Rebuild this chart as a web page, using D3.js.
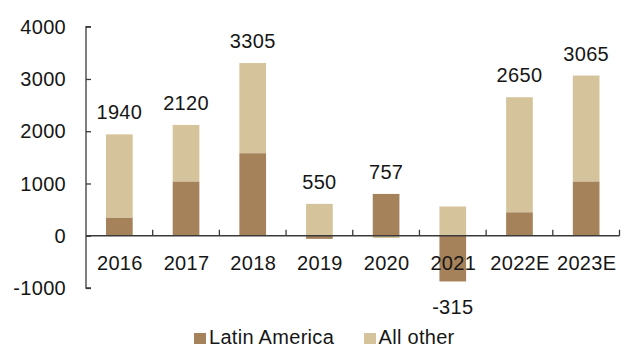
<!DOCTYPE html>
<html>
<head>
<meta charset="utf-8">
<script src="https://cdn.jsdelivr.net/npm/d3@7"></script>
<style>
  html, body { margin: 0; padding: 0; background: #fff; }
  svg { display: block; }
  text { font-family: "Liberation Sans", Arial, sans-serif; fill: #161616; font-size: 20px; letter-spacing: 0.3px; }
</style>
</head>
<body>
<svg id="chart" width="630" height="353"></svg>
<script>
// Years shown along the x axis
const years = ["2016", "2017", "2018", "2019", "2020", "2021", "2022E", "2023E"];
// Contribution of Latin America and of all other regions
const latinAmerica = [350, 1040, 1580, -60, 800, -875, 450, 1040];
const allOther = [1590, 1080, 1725, 610, -43, 560, 2200, 2025];
// Totals written above each stack
const totals = [1940, 2120, 3305, 550, 757, -315, 2650, 3065];
// Y axis ticks
const yTicks = [-1000, 0, 1000, 2000, 3000, 4000];

const seriesNames = ["Latin America", "All other"];
const colors = { "Latin America": "#a6825a", "All other": "#d5c49b" };

const svg = d3.select("#chart");
const plotLeft = 86, plotRight = 619.5, plotTop = 26.7, plotBottom = 288;

const x = d3.scaleBand().domain(years).range([plotLeft, plotRight])
  .paddingInner(0.6).paddingOuter(0.3);
const y = d3.scaleLinear().domain([-1000, 4000]).range([plotBottom, plotTop]);

const rows = years.map((yr, i) => ({
  year: yr, "Latin America": latinAmerica[i], "All other": allOther[i]
}));
const stacked = d3.stack().keys(seriesNames).offset(d3.stackOffsetDiverging)(rows);

// Bars
svg.append("g").selectAll("g").data(stacked).join("g")
  .attr("fill", d => colors[d.key])
  .selectAll("rect").data(d => d).join("rect")
  .attr("x", d => x(d.data.year))
  .attr("width", x.bandwidth())
  .attr("y", d => y(Math.max(d[0], d[1])))
  .attr("height", d => Math.abs(y(d[0]) - y(d[1])));

// Y axis with inward ticks
const yAxis = svg.append("g").attr("transform", `translate(${plotLeft},0)`)
  .call(d3.axisRight(y).tickValues(yTicks).tickSize(5).tickFormat(""));
yAxis.select(".domain").attr("stroke", "#3a3a3a").attr("stroke-width", 1.3)
  .attr("d", `M5,${plotTop}H0V${plotBottom}H5`);
yAxis.selectAll(".tick line").attr("stroke", "#3a3a3a").attr("stroke-width", 1.3);

svg.append("g").selectAll("text").data(yTicks).join("text")
  .attr("x", 66).attr("y", d => y(d)).attr("dy", "0.36em")
  .attr("text-anchor", "end")
  .text(d => d);

// X axis at zero with upward ticks between categories
const step = x.step();
const edges = d3.range(years.length + 1).map(i => plotLeft + i * step);
const y0 = y(0);
svg.append("line").attr("x1", plotLeft).attr("x2", plotRight)
  .attr("y1", y0).attr("y2", y0)
  .attr("stroke", "#3a3a3a").attr("stroke-width", 1.3);
svg.append("g").selectAll("line").data(edges.slice(1)).join("line")
  .attr("x1", d => d).attr("x2", d => d)
  .attr("y1", y0).attr("y2", y0 - 6)
  .attr("stroke", "#3a3a3a").attr("stroke-width", 1.3);

svg.append("g").selectAll("text").data(years).join("text")
  .attr("x", d => x(d) + x.bandwidth() / 2 + 0.5)
  .attr("y", 269.5)
  .attr("text-anchor", "middle")
  .text(d => d);

// Total labels
const posTop = i => d3.max(stacked, s => Math.max(s[i][0], s[i][1]));
const negBottom = i => d3.min(stacked, s => Math.min(s[i][0], s[i][1]));
svg.append("g").selectAll("text").data(totals).join("text")
  .attr("x", (d, i) => x(years[i]) + x.bandwidth() / 2)
  .attr("y", (d, i) => d >= 0 ? y(posTop(i)) - 15 : y(negBottom(i)) + 33)
  .attr("text-anchor", "middle")
  .text(d => d);

// Legend
const legend = [
  { name: "Latin America", sx: 194, tx: 209 },
  { name: "All other", sx: 364, tx: 378.5 }
];
const lg = svg.append("g").selectAll("g").data(legend).join("g");
lg.append("rect").attr("x", d => d.sx).attr("y", 333).attr("width", 12).attr("height", 11)
  .attr("fill", d => colors[d.name]);
lg.append("text").attr("x", d => d.tx).attr("y", 344)
  .text(d => d.name);
</script>
</body>
</html>
